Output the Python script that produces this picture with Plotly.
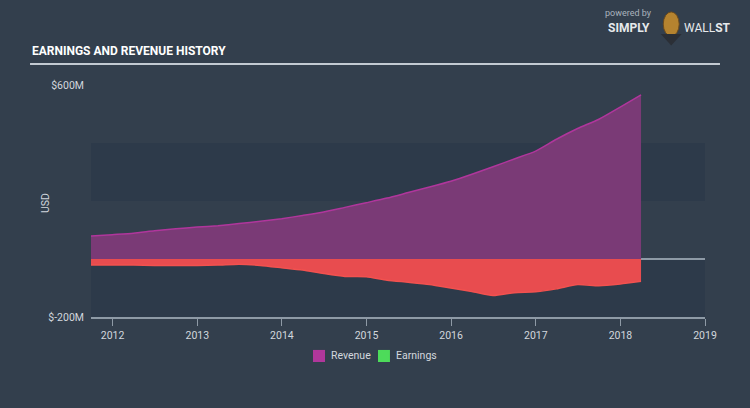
import plotly.graph_objects as go

dates = ["2011-09-30", "2011-12-31", "2012-03-31", "2012-06-30", "2012-09-30", "2012-12-31",
         "2013-03-31", "2013-06-30", "2013-09-30", "2013-12-31", "2014-03-31", "2014-06-30",
         "2014-09-30", "2014-12-31", "2015-03-31", "2015-06-30", "2015-09-30", "2015-12-31",
         "2016-03-31", "2016-06-30", "2016-09-30", "2016-12-31", "2017-03-31", "2017-06-30",
         "2017-09-30", "2017-12-31", "2018-03-31"]
revenue = [79, 84, 89, 97, 104, 110, 115, 122, 130, 139, 150, 162, 178, 194, 210, 229,
           248, 268, 292, 318, 345, 372, 413, 450, 482, 524, 566]
earnings = [-21, -21, -21, -22, -22, -22, -21, -18, -22, -30, -38, -50, -60, -61, -73, -80,
            -88, -100, -112, -126, -116, -113, -103, -88, -92, -86, -77]
y_ticks = [-200, 600]
y_tick_text = ["$-200M", "$600M"]
legend_names = ["Revenue", "Earnings"]
legend_colors = ["#b0379b", "#4ddb5a"]

BG = "#333f4d"
BAND = "#2d3a4a"
TXT = "#d2d7dd"
FONT = "Roboto"
FS = 10.5

fig = go.Figure()
fig.add_trace(go.Scatter(x=dates, y=revenue, mode="lines", fill="tozeroy",
                         line=dict(color="#b0369c", width=1.5, shape="spline", smoothing=0.6),
                         fillcolor="#7a3a76", showlegend=False, hoverinfo="skip"))
fig.add_trace(go.Scatter(x=dates, y=earnings, mode="lines", fill="tozeroy",
                         line=dict(color="#f2514f", width=1.5, shape="spline", smoothing=0.6),
                         fillcolor="#e84c4f", showlegend=False, hoverinfo="skip"))

# background bands
fig.add_shape(type="rect", xref="paper", x0=0, x1=1, yref="y", y0=200, y1=400,
              fillcolor=BAND, line_width=0, layer="below")
fig.add_shape(type="rect", xref="paper", x0=0, x1=1, yref="y", y0=-200, y1=0,
              fillcolor=BAND, line_width=0, layer="below")
# zero line
fig.add_shape(type="line", xref="paper", x0=0, x1=1, yref="y", y0=0, y1=0,
              line=dict(color="#8e9aa6", width=2), layer="below")
# title underline
fig.add_shape(type="line", xref="paper", x0=-0.0993, x1=1.0244, yref="paper", y0=1.0905, y1=1.0905,
              line=dict(color="#c3cad2", width=2))

fig.add_annotation(text="<b>EARNINGS AND REVENUE HISTORY</b>", xref="paper", yref="paper",
                   x=-0.0993, y=1.145, xanchor="left", yanchor="middle", showarrow=False,
                   font=dict(family="Roboto", size=12, color="#ffffff"))
# y axis title
fig.add_annotation(text="USD", xref="paper", yref="paper", x=-0.075, y=0.491, textangle=-90,
                   xanchor="center", yanchor="middle", showarrow=False,
                   font=dict(family=FONT, size=FS, color=TXT))

# legend (manual)
sw_x = [0.3616, 0.4674]
txt_x = [0.3876, 0.4935]
for name, col, sx, tx in zip(legend_names, legend_colors, sw_x, txt_x):
    fig.add_shape(type="rect", xref="paper", yref="paper", x0=sx, x1=sx + 0.0195,
                  y0=-0.194, y1=-0.142, fillcolor=col, line_width=0)
    fig.add_annotation(text=name, xref="paper", yref="paper", x=tx, y=-0.168,
                       xanchor="left", yanchor="middle", showarrow=False,
                       font=dict(family=FONT, size=FS, color=TXT))

# branding
fig.add_annotation(text="powered by", xref="paper", yref="paper", x=0.876, y=1.312,
                   xanchor="center", yanchor="middle", showarrow=False,
                   font=dict(family=FONT, size=9, color="#aab3bd"))
fig.add_annotation(text="<b>SIMPLY</b>", xref="paper", yref="paper", x=0.838, y=1.245,
                   xanchor="left", yanchor="middle", showarrow=False,
                   font=dict(family=FONT, size=12, color="#e6e9ec"))
fig.add_annotation(text="WALL<b>ST</b>", xref="paper", yref="paper", x=0.962, y=1.245,
                   xanchor="left", yanchor="middle", showarrow=False,
                   font=dict(family=FONT, size=12, color="#e6e9ec"))
fig.add_shape(type="circle", xref="paper", yref="paper", x0=0.932, x1=0.958, y0=1.21, y1=1.315,
              fillcolor="#b5832f", line=dict(color="#6b4a1c", width=1))
fig.add_shape(type="path", xref="paper", yref="paper",
              path="M 0.928 1.22 L 0.945 1.17 L 0.962 1.22 Z",
              fillcolor="#2b2f36", line_width=0)

fig.update_layout(
    width=750, height=408,
    margin=dict(l=91, r=45, t=85, b=91),
    paper_bgcolor=BG, plot_bgcolor=BG,
    font=dict(family=FONT, size=FS, color=TXT),
    showlegend=False,
    xaxis=dict(type="date", range=["2011-09-30", "2019-01-01"], tick0="2012-01-01", dtick="M12",
               tickformat="%Y", showgrid=False, zeroline=False, showline=True,
               linecolor="#8e9aa6", linewidth=2, ticks="outside", ticklen=7, tickcolor="#8e9aa6",
               tickwidth=1, tickfont=dict(size=FS, color=TXT)),
    yaxis=dict(range=[-200, 600], tickvals=y_ticks, ticktext=y_tick_text, showgrid=False,
               zeroline=False, showline=False, ticks="", ticklabelstandoff=6,
               tickfont=dict(size=FS, color=TXT)),
)

fig.write_html("out.html")
